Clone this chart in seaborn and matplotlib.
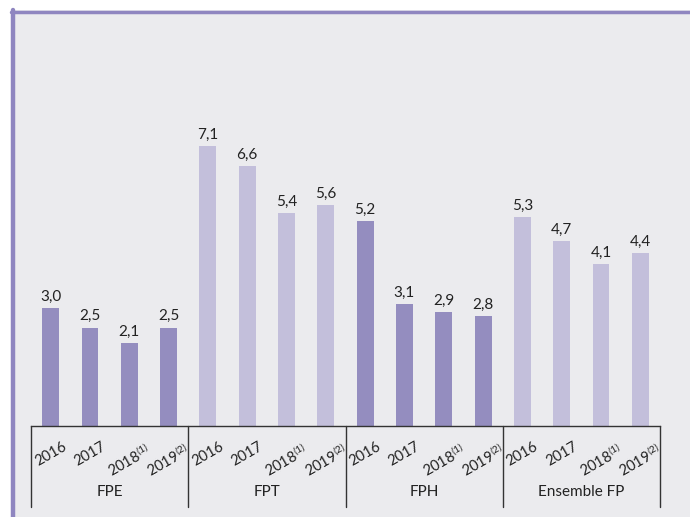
import matplotlib
matplotlib.use("Agg")
import matplotlib.pyplot as plt
import matplotlib.transforms as mtransforms
from matplotlib.patches import Rectangle
import pandas as pd
import seaborn as sns

# Data
groups = ["FPE", "FPT", "FPH", "Ensemble FP"]
years = ["2016", "2017", "2018$^{(1)}$", "2019$^{(2)}$"]
fpe = [3.0, 2.5, 2.1, 2.5]
fpt = [7.1, 6.6, 5.4, 5.6]
fph = [5.2, 3.1, 2.9, 2.8]
ensemble = [5.3, 4.7, 4.1, 4.4]

DARK = "#948dbf"
LIGHT = "#c3bfdb"
group_colors = [DARK, LIGHT, DARK, LIGHT]

rows = []
for g, vals, col in zip(groups, [fpe, fpt, fph, ensemble], group_colors):
    for y, v in zip(years, vals):
        rows.append({"key": g + "|" + y, "group": g, "year": y, "value": v, "color": col})
df = pd.DataFrame(rows)

sns.set_style("white")
plt.rcParams["font.family"] = ["Lato", "DejaVu Sans"]
plt.rcParams["mathtext.fontset"] = "custom"
plt.rcParams["mathtext.rm"] = "Lato"
plt.rcParams["mathtext.it"] = "Lato"

fig = plt.figure(figsize=(6.9, 5.17), dpi=100, facecolor="white")

# background panel with purple border on top and left
W, H = 690, 517
fig.patches.append(Rectangle((11 / W, 0), 1 - 11 / W, (H - 10) / H, transform=fig.transFigure,
                             facecolor="#ebebee", edgecolor="none", zorder=-10))
fig.add_artist(plt.Line2D([11 / W, 1], [(H - 11.5) / H] * 2, transform=fig.transFigure,
                          color="#8f86c0", lw=2.5, zorder=-5))
fig.add_artist(plt.Line2D([13 / W] * 2, [0, (H - 10) / H], transform=fig.transFigure,
                          color="#8f86c0", lw=3.2, zorder=-5))

ax = fig.add_axes([31 / W, (H - 426) / H, (660 - 31) / W, (426 - 32) / H])
ax.set_facecolor("none")

sns.barplot(data=df, x="key", y="value", hue="key", palette=dict(zip(df["key"], df["color"])),
            order=list(df["key"]), legend=False, width=0.43, ax=ax, saturation=1,
            linewidth=0, edgecolor="none")

for container in ax.containers:
    ax.bar_label(container, labels=[f"{v:.1f}".replace(".", ",") for v in container.datavalues],
                 padding=3, fontsize=11, color="#222222")

ax.set_xlim(-0.5, len(df) - 0.5)
ax.set_ylim(0, 10)
ax.set_xlabel("")
ax.set_ylabel("")
ax.set_yticks([])
ax.set_xticks(range(len(df)))
ax.set_xticklabels(list(df["year"]), rotation=30, ha="center", fontsize=10.5, color="#222222")
ax.tick_params(axis="x", length=0, pad=10)

for s in ["top", "right", "left"]:
    ax.spines[s].set_visible(False)
ax.spines["bottom"].set_color("#333333")
ax.spines["bottom"].set_linewidth(1)

trans = mtransforms.blended_transform_factory(ax.transData, ax.transAxes)
sep_bottom = -(507 - 426) / (426 - 32)
for b in [-0.5, 3.5, 7.5, 11.5, 15.5]:
    ax.plot([b, b], [0, sep_bottom], transform=trans, color="#333333", lw=1, clip_on=False)

label_y = -(492 - 426) / (426 - 32)
for i, g in enumerate(groups):
    ax.text(i * 4 + 1.5, label_y, g, transform=trans, ha="center", va="center",
            fontsize=11, color="#222222")

fig.savefig("out.png", dpi=100, facecolor=fig.get_facecolor())
